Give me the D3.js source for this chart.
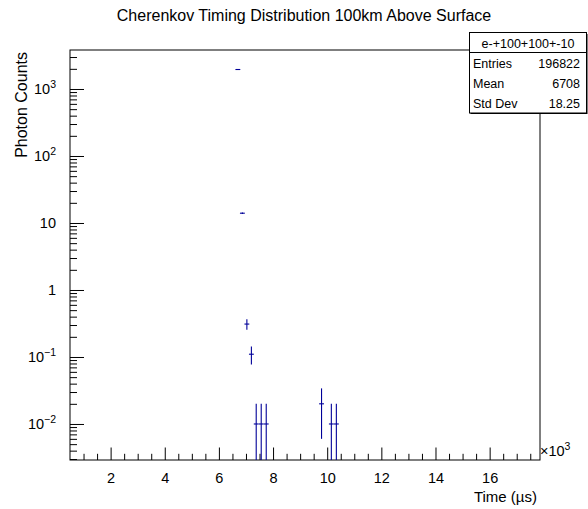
<!DOCTYPE html>
<html>
<head>
<meta charset="utf-8">
<script src="https://cdn.jsdelivr.net/npm/d3@7"></script>
<style>
  body { margin: 0; background: #fff; }
  text { font-family: "Liberation Sans", Arial, Helvetica, sans-serif; fill: #000; }
</style>
</head>
<body>
<div class="chart"></div>
<script>
var width = 588,
    height = 509;

// histogram contents, time in microseconds
var binCenters = [6700, 6867, 7033, 7200, 7378, 7563, 7748, 9791, 10153, 10338];
var binContents = [1954, 14, 0.31, 0.11, 0.01, 0.01, 0.01, 0.02, 0.01, 0.01];
var binErrors = [4.4, 0.37, 0.056, 0.033, 0.01, 0.01, 0.01, 0.014, 0.01, 0.01];
var binWidth = 180;

var xTicks = [2000, 4000, 6000, 8000, 10000, 12000, 14000, 16000];
var yDecades = [0.01, 0.1, 1, 10, 100, 1000];
var yLabels = [["10", "\u22122"], ["10", "\u22121"], ["1", ""], ["10", ""], ["10", "2"], ["10", "3"]];

var statsNames = ["Entries", "Mean", "Std Dev"];
var statsValues = ["196822", "6708", "18.25"];

var frame = {left: 70, right: 540, top: 50, bottom: 460};
var lineColor = "#000099";

var x = d3.scaleLinear()
    .domain([500, 17860])
    .range([frame.left, frame.right]);

var y = d3.scaleLog()
    .domain([0.0029, 3820])
    .range([frame.bottom, frame.top]);

var svg = d3.select(".chart").append("svg")
    .attr("width", width)
    .attr("height", height);

// title
svg.append("text")
  .attr("x", 304)
  .attr("y", 21)
  .attr("text-anchor", "middle")
  .style("font-size", "16px")
  .text("Cherenkov Timing Distribution 100km Above Surface");

// x axis: major every 2000, minor every 500
var xMinor = d3.range(1000, 17860, 500).filter(function(d) { return d % 2000 !== 0; });

var xAxis = d3.axisBottom(x)
  .tickValues(xTicks)
  .tickSize(-12.5)
  .tickPadding(13)
  .tickFormat(function(d) { return d / 1000; });

var gx = svg.append("g")
  .attr("transform", "translate(0," + frame.bottom + ")")
  .call(xAxis);
gx.select(".domain").remove();
gx.selectAll("text").style("font-size", "14.5px").attr("font-family", null);

svg.append("g")
  .attr("transform", "translate(0," + frame.bottom + ")")
  .call(d3.axisBottom(x).tickValues(xMinor).tickSize(-6.2).tickFormat(""))
  .select(".domain").remove();

// y axis: log with minor ticks 2..9
var yMinor = [];
[0.001, 0.01, 0.1, 1, 10, 100, 1000].forEach(function(dec) {
  for (var k = 2; k <= 9; k++) {
    var v = dec * k;
    if (v >= 0.0029 && v <= 3820) yMinor.push(v);
  }
});

var gy = svg.append("g")
  .attr("transform", "translate(" + frame.left + ",0)")
  .call(d3.axisLeft(y).tickValues(yDecades).tickSize(-14).tickFormat(""));
gy.select(".domain").remove();

svg.append("g")
  .attr("transform", "translate(" + frame.left + ",0)")
  .call(d3.axisLeft(y).tickValues(yMinor).tickSize(-7).tickFormat(""))
  .select(".domain").remove();

var yl = svg.append("g").selectAll("text")
  .data(yDecades)
  .enter()
  .append("text")
  .attr("x", 56)
  .attr("y", function(d) { return y(d) + 5.5; })
  .attr("text-anchor", "end")
  .style("font-size", "14.5px");
yl.append("tspan").text(function(d, i) { return yLabels[i][0]; });
yl.append("tspan")
  .attr("dy", -6)
  .style("font-size", "10.5px")
  .text(function(d, i) { return yLabels[i][1]; });

// frame
svg.append("rect")
  .attr("x", frame.left)
  .attr("y", frame.top)
  .attr("width", frame.right - frame.left)
  .attr("height", frame.bottom - frame.top)
  .attr("fill", "none")
  .attr("stroke", "#000")
  .attr("stroke-width", 1);

// axis titles
var mult = svg.append("text")
  .attr("x", 540)
  .attr("y", 456)
  .style("font-size", "14.5px");
mult.append("tspan").text("\u00d710");
mult.append("tspan").attr("dy", -6).style("font-size", "10.5px").text("3");

svg.append("text")
  .attr("x", 537)
  .attr("y", 502)
  .attr("text-anchor", "end")
  .style("font-size", "15px")
  .text("Time (\u00b5s)");

svg.append("text")
  .attr("transform", "translate(27,52) rotate(-90)")
  .attr("text-anchor", "end")
  .style("font-size", "16px")
  .text("Photon Counts");

// histogram error bars
var bins = binCenters.map(function(c, i) {
  return {c: c, v: binContents[i], e: binErrors[i]};
});

var marks = svg.append("g")
  .attr("stroke", lineColor)
  .attr("stroke-width", 1.1);

marks.selectAll(".hbar")
  .data(bins)
  .enter()
  .append("line")
  .attr("class", "hbar")
  .attr("x1", function(d) { return x(d.c - binWidth / 2); })
  .attr("x2", function(d) { return x(d.c + binWidth / 2); })
  .attr("y1", function(d) { return y(d.v); })
  .attr("y2", function(d) { return y(d.v); });

marks.selectAll(".vbar")
  .data(bins)
  .enter()
  .append("line")
  .attr("class", "vbar")
  .attr("x1", function(d) { return x(d.c); })
  .attr("x2", function(d) { return x(d.c); })
  .attr("y1", function(d) {
    var lo = d.v - d.e;
    return lo <= 0.0029 ? frame.bottom : y(lo);
  })
  .attr("y2", function(d) { return y(d.v + d.e); });

// stats box
var box = svg.append("g");
box.append("rect")
  .attr("x", 470.5)
  .attr("y", 34)
  .attr("width", 117)
  .attr("height", 80)
  .attr("fill", "#000");
box.append("rect")
  .attr("x", 469.5)
  .attr("y", 32.5)
  .attr("width", 117)
  .attr("height", 80.5)
  .attr("fill", "#fff")
  .attr("stroke", "#000");
box.append("line")
  .attr("x1", 469.5).attr("x2", 586.5)
  .attr("y1", 52.5).attr("y2", 52.5)
  .attr("stroke", "#000");
box.append("text")
  .attr("x", 528)
  .attr("y", 47.5)
  .attr("text-anchor", "middle")
  .style("font-size", "12.5px")
  .text("e-+100+100+-10");

box.selectAll(".sname")
  .data(statsNames)
  .enter()
  .append("text")
  .attr("class", "sname")
  .attr("x", 473)
  .attr("y", function(d, i) { return 67.5 + i * 20; })
  .style("font-size", "12.5px")
  .text(function(d) { return d; });

box.selectAll(".sval")
  .data(statsValues)
  .enter()
  .append("text")
  .attr("class", "sval")
  .attr("x", 580)
  .attr("y", function(d, i) { return 67.5 + i * 20; })
  .attr("text-anchor", "end")
  .style("font-size", "12.5px")
  .text(function(d) { return d; });
</script>
</body>
</html>
